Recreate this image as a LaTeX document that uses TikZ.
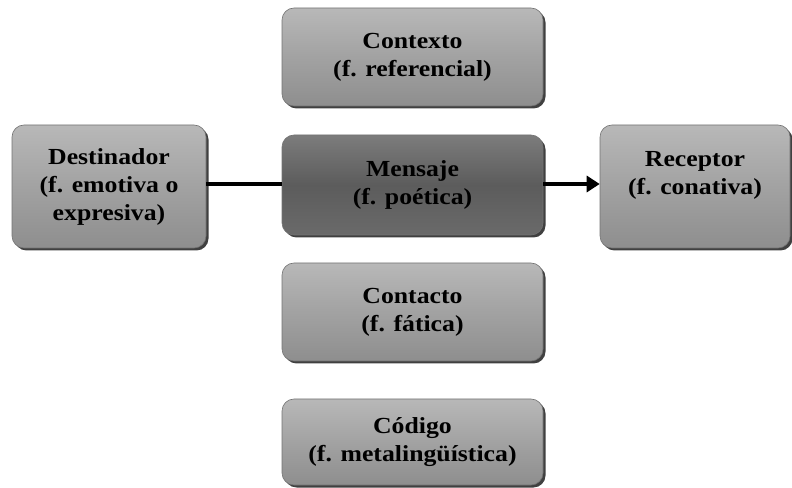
\documentclass[tikz,border=0pt]{standalone}
\usepackage{fontspec}
\newfontfamily\boxfont{Liberation Serif}[FakeStretch=1.12]
\usetikzlibrary{shadows,arrows.meta}
\definecolor{ltop}{HTML}{B8B8B8}
\definecolor{lmid}{HTML}{A2A2A2}
\definecolor{lbot}{HTML}{8E8E8E}
\definecolor{dtop}{HTML}{7C7C7C}
\definecolor{dmid}{HTML}{5C5C5C}
\definecolor{dbot}{HTML}{6A6A6A}
\tikzset{
  box/.style={rounded corners=12pt, draw=black!55, line width=0.6pt,
    top color=ltop, bottom color=lbot, middle color=lmid,
    drop shadow={shadow xshift=2.5pt, shadow yshift=-2.5pt, fill=black!75, opacity=1},
    align=center, inner sep=0pt,
    font=\boxfont\bfseries\fontsize{23}{28}\selectfont, text=black},
  darkbox/.style={box, top color=dtop, bottom color=dbot, middle color=dmid},
  conn/.style={line width=3.2pt, black}
}
\begin{document}
\begin{tikzpicture}[x=1pt,y=1pt]
\useasboundingbox (0,0) rectangle (792,487);
\node[box, minimum width=261pt, minimum height=98pt] (ctx) at (412.5,430) {Contexto\\(f. referencial)};
\node[box, minimum width=194pt, minimum height=123pt] (dest) at (109,300.5) {Destinador\\(f. emotiva o\\expresiva)};
\node[darkbox, minimum width=261pt, minimum height=100pt] (msg) at (412.5,302) {Mensaje\\(f. poética)};
\node[box, minimum width=190pt, minimum height=123pt] (rec) at (695,300.5) {Receptor\\(f. conativa)\\\mbox{}};
\node[box, minimum width=261pt, minimum height=98pt] (cont) at (412.5,175) {Contacto\\(f. fática)};
\node[box, minimum width=261pt, minimum height=86pt] (cod) at (412.5,45) {Código\\(f. metalingüística)};
\draw[conn] (dest.east |- 0,303) -- (msg.west |- 0,303);
\draw[conn, -{Triangle[length=13pt,width=16pt]}] (msg.east |- 0,303) -- (rec.west |- 0,303);
\end{tikzpicture}
\end{document}
